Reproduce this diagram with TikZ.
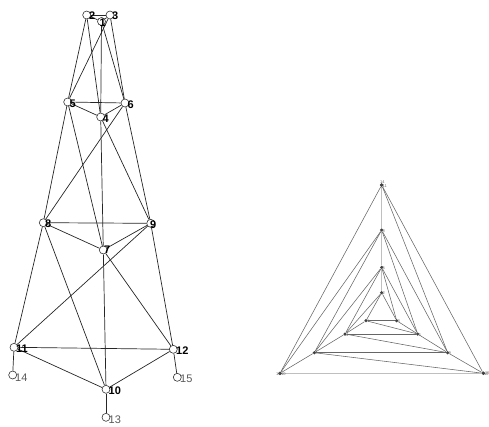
\documentclass[tikz,border=0pt]{standalone}
\usepackage{fontspec}
\setmainfont{Liberation Sans}
\begin{document}
\begin{tikzpicture}[x=1pt,y=-1pt,
 lv/.style={circle,draw=black!80,line width=0.6pt,inner sep=0pt,minimum size=8pt},
 lab/.style={anchor=west,inner sep=0pt,font=\fontsize{11}{11}\selectfont\bfseries},
 plab/.style={anchor=west,inner sep=0pt,font=\fontsize{11}{11}\selectfont,text=black!65},
 le/.style={draw=black!85,line width=0.7pt},
 rv/.style={circle,fill=black!75,inner sep=0pt,minimum size=3.5pt},
 rlab/.style={anchor=west,inner sep=0pt,font=\fontsize{4}{4}\selectfont,text=black!60},
 re/.style={draw=black!60,line width=0.55pt},
 rel/.style={draw=black!25,line width=0.6pt}]
\useasboundingbox (0,0) rectangle (489,426);
% ---------- left drawing ----------
\node[lv] (n1) at (101.5,21.5) {};
\node[lv] (n2) at (86.7,15) {};
\node[lv] (n3) at (110,15) {};
\node[lv] (n5) at (67.7,102) {};
\node[lv] (n6) at (125,103) {};
\node[lv] (n4) at (100.7,117) {};
\node[lv] (n8) at (43.3,222.7) {};
\node[lv] (n9) at (150.7,223.3) {};
\node[lv] (n7) at (103.3,250) {};
\node[lv] (n11) at (14,347.3) {};
\node[lv] (n12) at (173.3,349.3) {};
\node[lv] (n10) at (106,389.3) {};
\node[lv] (n14) at (12.7,375) {};
\node[lv] (n15) at (177.3,377.3) {};
\node[lv] (n13) at (106,417.3) {};
\foreach \a/\b in {1/2,1/3,2/3,4/5,4/6,5/6,7/8,7/9,8/9,10/11,10/12,11/12,
  2/5,3/6,1/4,5/8,6/9,4/7,8/11,9/12,7/10,
  2/4,1/6,3/5,5/7,4/9,6/8,8/10,7/12,9/11,
  10/13,11/14,12/15}
  \draw[le] (n\a) -- (n\b);
\node[lab] (t1) at (99.5,22.5) {1};
\node[lab] (t2) at (89,16) {2};
\node[lab] (t3) at (112,16) {3};
\node[lab] (t5) at (69.5,104) {5};
\node[lab] (t6) at (127.5,105) {6};
\node[lab] (t4) at (102.5,119) {4};
\node[lab] (t8) at (45,224) {8};
\node[lab] (t9) at (150,224.5) {9};
\node[lab] (t7) at (104,249.5) {7};
\node[lab] (t11) at (16,349) {11};
\node[lab] (t12) at (176,351) {12};
\node[lab] (t10) at (108.5,391) {10};
\node[plab] (t14) at (15,378) {14};
\node[plab] (t15) at (180,379) {15};
\node[plab] (t13) at (108.5,419.5) {13};
% ---------- right drawing ----------
\node[rv] (r11) at (381.7,185) {};
\node[rv] (r10) at (280,373.3) {};
\node[rv] (r12) at (483.3,373.3) {};
\node[rv] (r8) at (381.7,230) {};
\node[rv] (r7) at (314.3,352.7) {};
\node[rv] (r9) at (447.7,352.7) {};
\node[rv] (r5) at (381.7,267.3) {};
\node[rv] (r4) at (345,334) {};
\node[rv] (r6) at (417.7,334) {};
\node[rv] (r2) at (381.7,292.7) {};
\node[rv] (r1) at (366,320.7) {};
\node[rv] (r3) at (396.7,320.7) {};
\foreach \a/\b in {1/2,1/3,2/3,4/5,4/6,5/6,7/8,7/9,8/9,10/11,11/12,
  3/6,1/4,6/9,4/7,9/12,7/10,
  2/4,1/6,3/5,5/7,4/9,6/8,8/10,7/12,9/11}
  \draw[re] (r\a) -- (r\b);
\foreach \a/\b in {2/5,5/8,8/11,10/12}
  \draw[rel] (r\a) -- (r\b);
\node[rv] (r14) at (381.7,185) {};
\node[rv] (r13) at (280,373.3) {};
\node[rv] (r15) at (483.3,373.3) {};
\node[rlab] (s11) at (382.5,186) {11};
\node[rlab] (s14) at (380,182) {14};
\node[rlab] (s10) at (281,374) {10};
\node[rlab] (s13) at (276,374.5) {13};
\node[rlab] (s12) at (484,374) {12};
\node[rlab] (s15) at (485,373) {15};
\node[rlab] (s8) at (382.5,231) {8};
\node[rlab] (s7) at (315,353.5) {7};
\node[rlab] (s9) at (448.5,353.5) {9};
\node[rlab] (s5) at (382.5,268) {5};
\node[rlab] (s4) at (345.8,334.8) {4};
\node[rlab] (s6) at (418.5,334.8) {6};
\node[rlab] (s2) at (382.5,293.5) {2};
\node[rlab] (s1) at (366.8,321.5) {1};
\node[rlab] (s3) at (397.5,321.5) {3};
\end{tikzpicture}
\end{document}
